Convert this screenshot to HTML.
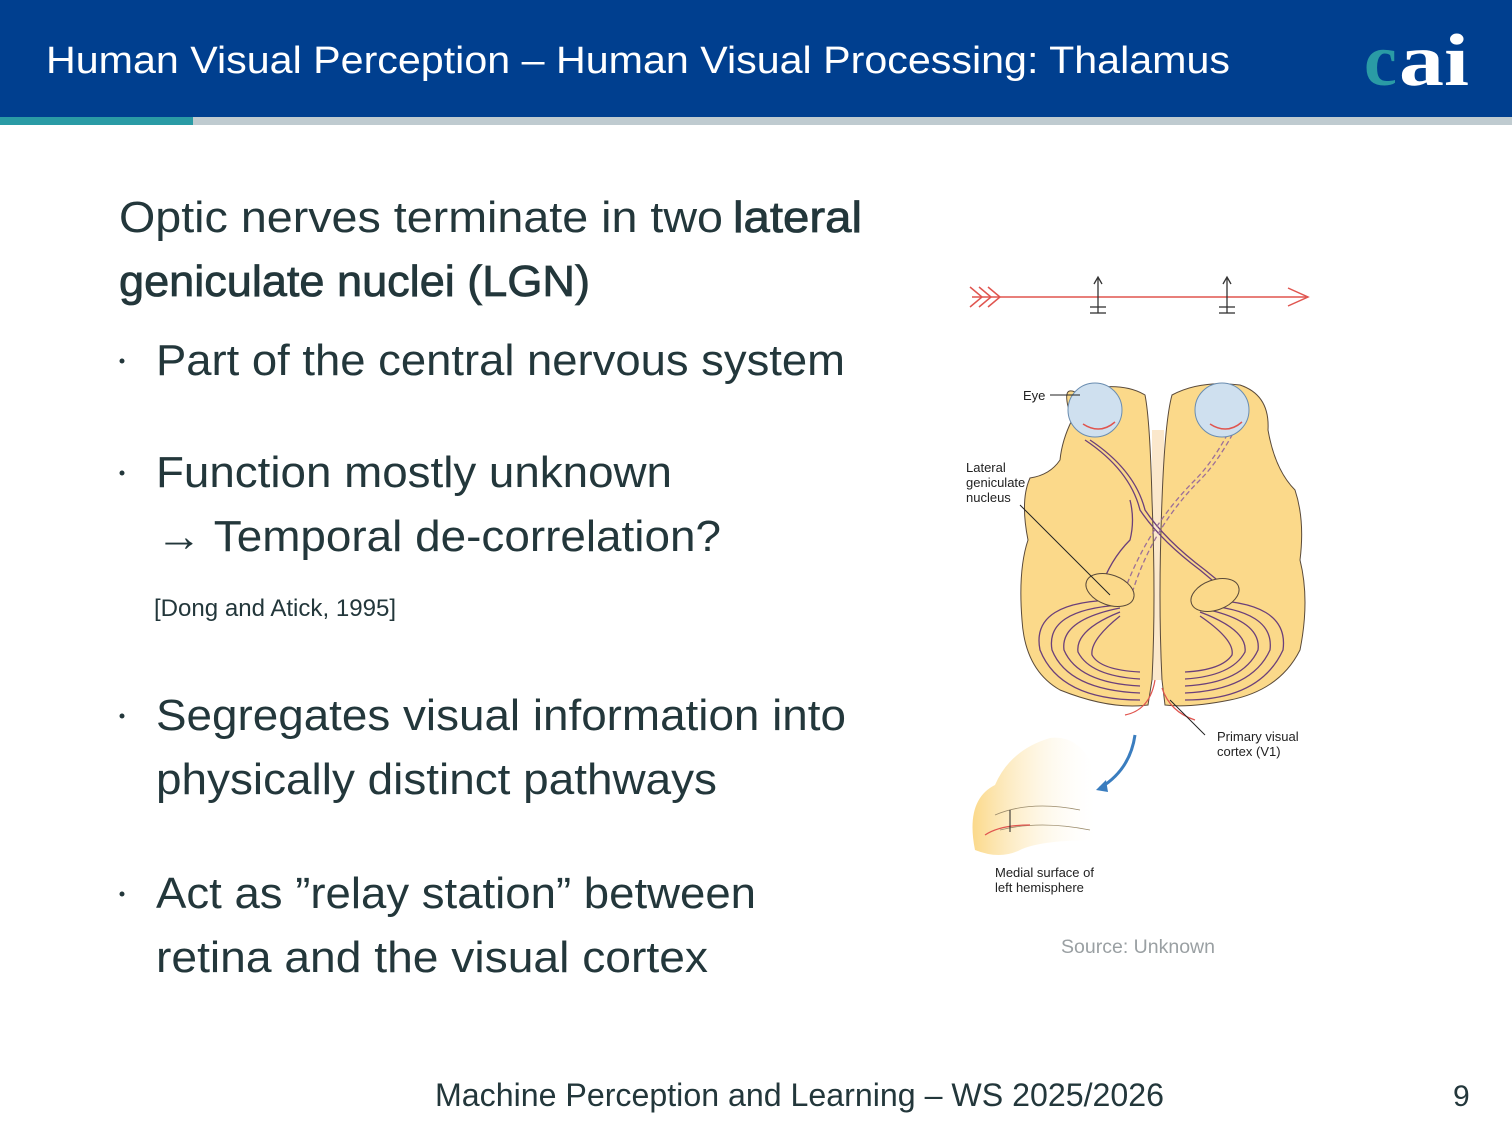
<!DOCTYPE html>
<html><head><meta charset="utf-8"><style>
html,body{margin:0;padding:0;background:#fff;}
svg{display:block;}
</style></head><body>
<svg width="1512" height="1134" viewBox="0 0 1512 1134" xmlns="http://www.w3.org/2000/svg" font-family="Liberation Sans, sans-serif">
<rect x="0" y="0" width="1512" height="117" fill="#003f8f"/>
<rect x="0" y="117" width="1512" height="8" fill="#bfcbd0"/>
<rect x="0" y="117" width="193" height="8" fill="#2a9ba5"/>
<text x="46" y="73" font-size="38" fill="#fff" textLength="1184" lengthAdjust="spacingAndGlyphs">Human Visual Perception – Human Visual Processing: Thalamus</text>
<text x="1364" y="85" style="font-family:'Liberation Serif',serif" font-size="74" font-weight="bold" fill="#2a9ba5">c</text>
<text x="1399" y="85" style="font-family:'Liberation Serif',serif" font-size="74" font-weight="bold" fill="#fff" textLength="70" lengthAdjust="spacingAndGlyphs">ai</text>

<g fill="#23373b">
<text x="119" y="232" font-size="44" textLength="604" lengthAdjust="spacingAndGlyphs">Optic nerves terminate in two</text>
<text x="733" y="232" font-size="44" stroke="#23373b" stroke-width="0.8" textLength="129" lengthAdjust="spacingAndGlyphs">lateral</text>
<text x="119" y="296" font-size="44" stroke="#23373b" stroke-width="0.8" textLength="471" lengthAdjust="spacingAndGlyphs">geniculate nuclei (LGN)</text>
<circle cx="122" cy="361" r="2.5"/>
<text x="156" y="375" font-size="44" textLength="689" lengthAdjust="spacingAndGlyphs">Part of the central nervous system</text>
<circle cx="122" cy="473" r="2.5"/>
<text x="156" y="487" font-size="44" textLength="516" lengthAdjust="spacingAndGlyphs">Function mostly unknown</text>
<text x="156" y="551" font-size="44" textLength="565" lengthAdjust="spacingAndGlyphs">→ Temporal de-correlation?</text>
<text x="154" y="616" font-size="24" textLength="242" lengthAdjust="spacingAndGlyphs">[Dong and Atick, 1995]</text>
<circle cx="122" cy="716" r="2.5"/>
<text x="156" y="730" font-size="44" textLength="690" lengthAdjust="spacingAndGlyphs">Segregates visual information into</text>
<text x="156" y="794" font-size="44" textLength="561" lengthAdjust="spacingAndGlyphs">physically distinct pathways</text>
<circle cx="122" cy="894" r="2.5"/>
<text x="156" y="908" font-size="44" textLength="600" lengthAdjust="spacingAndGlyphs">Act as ”relay station” between</text>
<text x="156" y="972" font-size="44" textLength="552" lengthAdjust="spacingAndGlyphs">retina and the visual cortex</text>
<text x="435" y="1106" font-size="32" textLength="729" lengthAdjust="spacingAndGlyphs">Machine Perception and Learning – WS 2025/2026</text>
<text x="1453" y="1106" font-size="30">9</text>
</g>
<text x="1061" y="953" font-size="19" fill="#9aa0a3" textLength="154" lengthAdjust="spacingAndGlyphs">Source: Unknown</text>

<!-- top arrow diagram -->
<g stroke="#e0554f" stroke-width="1.5" fill="none">
<line x1="972" y1="297" x2="1308" y2="297"/>
<path d="M970 287 L982 297 L970 307 M979 287 L991 297 L979 307 M988 287 L1000 297 L988 307"/>
<path d="M1288 288 L1308 297 L1288 306"/>
</g>
<g stroke="#333" stroke-width="1.3" fill="none">
<line x1="1098" y1="278" x2="1098" y2="313"/><path d="M1094 284 L1098 277 L1102 284"/><line x1="1090" y1="307" x2="1106" y2="307"/><line x1="1090" y1="313" x2="1106" y2="313"/>
<line x1="1227" y1="278" x2="1227" y2="313"/><path d="M1223 284 L1227 277 L1231 284"/><line x1="1219" y1="307" x2="1235" y2="307"/><line x1="1219" y1="313" x2="1235" y2="313"/>
</g>

<!-- brain -->
<rect x="1152" y="430" width="12" height="250" fill="#fbe8cc"/>
<g fill="#fbd98a" stroke="#5a4a3a" stroke-width="1">
<path d="M1075 392 Q1060 385 1072 420 Q1062 440 1060 460 Q1050 475 1030 478 Q1020 500 1028 540 Q1018 570 1022 620 Q1025 670 1060 690 Q1110 710 1148 705 L1152 680 Q1156 600 1152 500 Q1150 420 1145 395 Q1120 380 1075 392 Z"/>
<path d="M1240 385 Q1270 395 1268 430 Q1275 470 1295 490 Q1305 520 1300 560 Q1310 600 1300 650 Q1280 690 1230 700 Q1190 708 1165 705 L1162 680 Q1158 600 1162 500 Q1165 420 1172 395 Q1200 380 1240 385 Z"/>
</g>
<g fill="none" stroke="#6b3f7a" stroke-width="1.3">
<path d="M1120 600 Q1030 600 1040 650 Q1060 700 1140 700"/>
<path d="M1120 605 Q1045 610 1052 650 Q1068 690 1140 693"/>
<path d="M1120 608 Q1060 620 1064 650 Q1078 683 1140 686"/>
<path d="M1120 612 Q1075 630 1078 652 Q1090 676 1140 679"/>
<path d="M1120 616 Q1090 640 1092 655 Q1100 670 1140 672"/>
<path d="M1200 600 Q1290 600 1283 650 Q1260 700 1185 700"/>
<path d="M1200 605 Q1275 610 1270 650 Q1252 690 1185 693"/>
<path d="M1200 608 Q1262 620 1258 650 Q1243 683 1185 686"/>
<path d="M1200 612 Q1248 630 1245 652 Q1232 676 1185 679"/>
<path d="M1200 616 Q1235 640 1232 655 Q1222 670 1185 672"/>
<path d="M1085 440 Q1130 470 1140 510 Q1160 540 1200 570 L1230 595"/>
<path d="M1090 440 Q1135 470 1145 510 Q1165 540 1205 570 L1232 592"/>
<path d="M1100 590 Q1110 560 1130 540 Q1135 520 1130 500"/>
</g>
<g fill="none" stroke="#9c6f98" stroke-width="1.3" stroke-dasharray="5 3">
<path d="M1240 420 Q1220 460 1200 480 Q1150 530 1130 600"/>
<path d="M1235 420 Q1215 460 1195 480 Q1145 530 1122 598"/>
</g>
<ellipse cx="1110" cy="590" rx="25" ry="15" fill="#fbd98a" stroke="#5a4a3a" transform="rotate(20 1110 590)"/>
<ellipse cx="1215" cy="595" rx="25" ry="15" fill="#fbd98a" stroke="#5a4a3a" transform="rotate(-20 1215 595)"/>
<circle cx="1095" cy="410" r="27" fill="#cfe0ef" stroke="#6a8db0"/>
<circle cx="1222" cy="410" r="27" fill="#cfe0ef" stroke="#6a8db0"/>
<path d="M1083 424 Q1100 435 1115 422" stroke="#e0554f" fill="none" stroke-width="1.5"/>
<path d="M1210 424 Q1227 435 1242 422" stroke="#e0554f" fill="none" stroke-width="1.5"/>
<g stroke="#e0554f" fill="none" stroke-width="1.2">
<path d="M1125 715 Q1150 710 1155 680"/><path d="M1195 720 Q1170 712 1162 688"/>
</g>
<path d="M1135 735 Q1130 770 1100 788" stroke="#3a7dbf" stroke-width="3" fill="none"/>
<path d="M1096 790 L1106 780 L1108 792 Z" fill="#3a7dbf"/>
<defs><linearGradient id="mg" x1="0" x2="1"><stop offset="0" stop-color="#fbd98a"/><stop offset="1" stop-color="#fff" stop-opacity="0"/></linearGradient></defs>
<path d="M975 850 Q965 800 995 785 Q1010 750 1050 738 Q1075 735 1090 760 L1100 840 Q1040 840 1020 850 Q1000 860 975 850 Z" fill="url(#mg)"/>
<g stroke="#9a8a6a" fill="none" stroke-width="0.8"><path d="M1000 830 Q1040 820 1090 830"/><path d="M995 815 Q1030 800 1080 810"/></g>
<path d="M985 835 Q1000 825 1030 825" stroke="#e0554f" fill="none" stroke-width="1.3"/>
<g stroke="#222" stroke-width="1" fill="none">
<line x1="1050" y1="395" x2="1080" y2="395"/>
<line x1="1020" y1="505" x2="1110" y2="595"/>
<line x1="1205" y1="735" x2="1170" y2="700"/>
<line x1="1010" y1="810" x2="1010" y2="832"/>
</g>
<g font-size="13" fill="#222">
<text x="1023" y="400">Eye</text>
<text x="966" y="472">Lateral</text><text x="966" y="487">geniculate</text><text x="966" y="502">nucleus</text>
<text x="1217" y="741">Primary visual</text><text x="1217" y="756">cortex (V1)</text>
<text x="995" y="877">Medial surface of</text><text x="995" y="892">left hemisphere</text>
</g>
</svg>
</body></html>
